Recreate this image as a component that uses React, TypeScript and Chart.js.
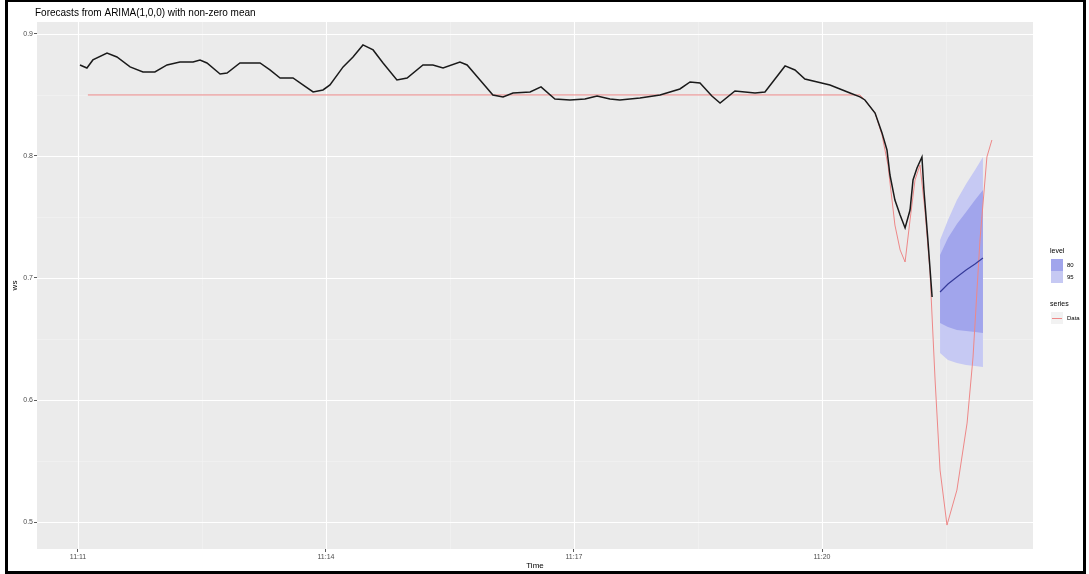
import React, { useEffect, useRef } from "react";
import { Chart, registerables } from "chart.js";
Chart.register(...registerables);

// ---- data ----
const seriesX = [0.008, 0.036, 0.060, 0.117, 0.157, 0.210, 0.262, 0.310, 0.359, 0.411, 0.464, 0.492, 0.520, 0.573, 0.601, 0.653, 0.734, 0.774, 0.815, 0.867, 0.907, 0.948, 0.988, 1.016, 1.069, 1.109, 1.149, 1.190, 1.230, 1.286, 1.327, 1.391, 1.431, 1.472, 1.540, 1.569, 1.621, 1.673, 1.714, 1.754, 1.823, 1.867, 1.923, 1.984, 2.044, 2.093, 2.145, 2.185, 2.266, 2.347, 2.427, 2.468, 2.508, 2.556, 2.589, 2.649, 2.730, 2.770, 2.851, 2.891, 2.931, 3.032, 3.113, 3.153, 3.173, 3.214, 3.242, 3.262, 3.274, 3.294, 3.315, 3.335, 3.355, 3.367, 3.383, 3.403, 3.411, 3.427, 3.444];
const seriesY = [0.8746, 0.8721, 0.8787, 0.8844, 0.8811, 0.8730, 0.8689, 0.8689, 0.8746, 0.8770, 0.8770, 0.8787, 0.8762, 0.8672, 0.8680, 0.8762, 0.8762, 0.8705, 0.8639, 0.8639, 0.8582, 0.8525, 0.8541, 0.8582, 0.8730, 0.8811, 0.8910, 0.8869, 0.8762, 0.8623, 0.8639, 0.8746, 0.8746, 0.8721, 0.8770, 0.8746, 0.8623, 0.8500, 0.8484, 0.8516, 0.8525, 0.8566, 0.8467, 0.8459, 0.8467, 0.8492, 0.8467, 0.8459, 0.8475, 0.8500, 0.8549, 0.8607, 0.8598, 0.8492, 0.8434, 0.8533, 0.8516, 0.8525, 0.8738, 0.8705, 0.8631, 0.8582, 0.8516, 0.8484, 0.8459, 0.8352, 0.8189, 0.8049, 0.7844, 0.7639, 0.7516, 0.7410, 0.7557, 0.7803, 0.7902, 0.7992, 0.7721, 0.7311, 0.6844];

const dataX = [0.040, 3.153, 3.173, 3.214, 3.242, 3.266, 3.294, 3.315, 3.335, 3.355, 3.375, 3.395, 3.415, 3.435, 3.456, 3.476, 3.504, 3.544, 3.585, 3.609, 3.637, 3.665, 3.685];
const dataY = [0.8500, 0.8500, 0.8459, 0.8352, 0.8172, 0.7926, 0.7434, 0.7230, 0.7131, 0.7475, 0.7803, 0.7926, 0.7557, 0.7066, 0.6164, 0.5426, 0.4975, 0.5262, 0.5811, 0.6352, 0.7311, 0.7992, 0.8131];

const fcX = [3.476, 3.508, 3.544, 3.581, 3.617, 3.649];
const fcMean = [0.6885, 0.6951, 0.7008, 0.7066, 0.7115, 0.7164];
const fcHi95 = [0.7311, 0.7475, 0.7639, 0.7770, 0.7885, 0.7992];
const fcLo95 = [0.6385, 0.6328, 0.6303, 0.6287, 0.6279, 0.6270];
const fcHi80 = [0.7189, 0.7328, 0.7443, 0.7541, 0.7639, 0.7721];
const fcLo80 = [0.6631, 0.6598, 0.6574, 0.6566, 0.6557, 0.6549];

const xTickValues = [0, 1, 2, 3];
const xTickLabels = ["11:11", "11:14", "11:17", "11:20"];
const yTickValues = [0.5, 0.6, 0.7, 0.8, 0.9];
const levelLabels = ["80", "95"];
const seriesLabels = ["Data"];

const TITLE = "Forecasts from ARIMA(1,0,0) with non-zero mean";
const X_TITLE = "Time";
const Y_TITLE = "ws";

const LIGHT = "#C6C9F3";
const DARK = "#A1A5EC";
const RED = "#EE8888";
const FONT = '"Liberation Sans", Arial, sans-serif';

const pts = (xs: number[], ys: number[]) => xs.map((x, i) => ({ x, y: ys[i] }));

export default function App() {
  const ref = useRef<HTMLCanvasElement | null>(null);
  useEffect(() => {
    if (!ref.current) return;
    Chart.defaults.font.family = FONT;

    const deco = {
      id: "deco",
      beforeDraw(chart: any) {
        const { ctx, chartArea: a } = chart;
        ctx.save();
        ctx.fillStyle = "#FFFFFF";
        ctx.fillRect(0, 0, chart.width, chart.height);
        ctx.fillStyle = "#EBEBEB";
        ctx.fillRect(a.left, a.top, a.right - a.left, a.bottom - a.top);
        ctx.restore();
      },
      beforeDatasetsDraw(chart: any) {
        const { ctx, chartArea: a, scales } = chart;
        const xs = scales.x, ys = scales.y;
        ctx.save();
        // minor
        ctx.strokeStyle = "#F4F4F4";
        ctx.lineWidth = 0.6;
        for (let i = 0; i < yTickValues.length - 1; i++) {
          const py = Math.round(ys.getPixelForValue((yTickValues[i] + yTickValues[i + 1]) / 2)) + 0.5;
          ctx.beginPath(); ctx.moveTo(a.left, py); ctx.lineTo(a.right, py); ctx.stroke();
        }
        for (let i = 0; i < xTickValues.length; i++) {
          const v = xTickValues[i] + 0.5;
          const px = Math.round(xs.getPixelForValue(v)) + 0.5;
          if (px > a.right) continue;
          ctx.beginPath(); ctx.moveTo(px, a.top); ctx.lineTo(px, a.bottom); ctx.stroke();
        }
        // major
        ctx.strokeStyle = "#FFFFFF";
        ctx.lineWidth = 1.1;
        yTickValues.forEach((v) => {
          const py = Math.round(ys.getPixelForValue(v)) + 0.5;
          ctx.beginPath(); ctx.moveTo(a.left, py); ctx.lineTo(a.right, py); ctx.stroke();
        });
        xTickValues.forEach((v) => {
          const px = Math.round(xs.getPixelForValue(v)) + 0.5;
          ctx.beginPath(); ctx.moveTo(px, a.top); ctx.lineTo(px, a.bottom); ctx.stroke();
        });
        ctx.restore();
      },
      afterDraw(chart: any) {
        const { ctx, chartArea: a } = chart;
        ctx.save();
        // title
        ctx.fillStyle = "#000";
        ctx.font = `10px ${FONT}`;
        ctx.textAlign = "left";
        ctx.textBaseline = "middle";
        ctx.fillText(TITLE, 35, 13);
        // axis titles
        ctx.font = `8px ${FONT}`;
        ctx.textAlign = "center";
        ctx.fillText(X_TITLE, (a.left + a.right) / 2, 566);
        ctx.save();
        ctx.translate(15, (a.top + a.bottom) / 2);
        ctx.rotate(-Math.PI / 2);
        ctx.fillText(Y_TITLE, 0, 0);
        ctx.restore();
        // legend
        ctx.textAlign = "left";
        ctx.font = `7px ${FONT}`;
        ctx.fillText("level", 1050, 251);
        ctx.fillStyle = DARK;
        ctx.fillRect(1051, 259, 12, 12);
        ctx.fillStyle = LIGHT;
        ctx.fillRect(1051, 271, 12, 12);
        ctx.fillStyle = "#000";
        ctx.font = `6px ${FONT}`;
        ctx.fillText(levelLabels[0], 1067, 265);
        ctx.fillText(levelLabels[1], 1067, 277);
        ctx.font = `7px ${FONT}`;
        ctx.fillText("series", 1050, 304);
        ctx.fillStyle = "#F2F2F2";
        ctx.fillRect(1051, 312, 12, 12);
        ctx.strokeStyle = RED;
        ctx.lineWidth = 1;
        ctx.beginPath(); ctx.moveTo(1052, 318.5); ctx.lineTo(1062, 318.5); ctx.stroke();
        ctx.fillStyle = "#000";
        ctx.font = `6px ${FONT}`;
        ctx.fillText(seriesLabels[0], 1067, 318);
        // frame
        ctx.fillStyle = "#000";
        ctx.fillRect(5, 0, 3, 574);
        ctx.fillRect(5, 0, 1081, 2);
        ctx.fillRect(1083, 0, 3, 574);
        ctx.fillRect(5, 571, 1081, 3);
        ctx.restore();
      },
    };

    const noPt = { pointRadius: 0, pointHoverRadius: 0, tension: 0 };
    const chart = new Chart(ref.current, {
      type: "line",
      data: {
        datasets: [
          { label: "lo95", data: pts(fcX, fcLo95), borderWidth: 0, borderColor: "rgba(0,0,0,0)", fill: false, order: 7, ...noPt },
          { label: "95", data: pts(fcX, fcHi95), borderWidth: 0, borderColor: "rgba(0,0,0,0)", backgroundColor: LIGHT, fill: 0, order: 6, ...noPt },
          { label: "lo80", data: pts(fcX, fcLo80), borderWidth: 0, borderColor: "rgba(0,0,0,0)", fill: false, order: 5, ...noPt },
          { label: "80", data: pts(fcX, fcHi80), borderWidth: 0, borderColor: "rgba(0,0,0,0)", backgroundColor: DARK, fill: 2, order: 4, ...noPt },
          { label: "Data", data: pts(dataX, dataY), borderWidth: 1, borderColor: RED, fill: false, order: 3, ...noPt },
          { label: "series", data: pts(seriesX, seriesY), borderWidth: 1.5, borderColor: "#1A1A1A", fill: false, order: 2, ...noPt },
          { label: "mean", data: pts(fcX, fcMean), borderWidth: 1.2, borderColor: "#363B9A", fill: false, order: 1, ...noPt },
        ] as any,
      },
      options: {
        responsive: false,
        animation: false,
        events: [],
        layout: { padding: { left: 0, right: 56, top: 22, bottom: 0 } },
        plugins: { legend: { display: false }, tooltip: { enabled: false }, title: { display: false } },
        scales: {
          x: {
            type: "linear",
            min: -0.1653,
            max: 3.8508,
            afterBuildTicks: (s: any) => { s.ticks = xTickValues.map((v) => ({ value: v })); },
            afterFit: (s: any) => { s.height = 25; },
            ticks: {
              autoSkip: false,
              maxRotation: 0,
              padding: 1,
              color: "#4D4D4D",
              font: { size: 7 },
              callback: (v: any) => xTickLabels[xTickValues.indexOf(Number(v))] ?? "",
            },
            grid: { drawOnChartArea: false, tickLength: 3, tickColor: "#333333", tickWidth: 0.8 },
            border: { display: false },
          },
          y: {
            type: "linear",
            min: 0.4779,
            max: 0.9098,
            afterBuildTicks: (s: any) => { s.ticks = yTickValues.map((v) => ({ value: v })); },
            afterFit: (s: any) => { s.width = 37; },
            ticks: {
              autoSkip: false,
              padding: 1,
              color: "#4D4D4D",
              font: { size: 7 },
              callback: (v: any) => Number(v).toFixed(1),
            },
            grid: { drawOnChartArea: false, tickLength: 3, tickColor: "#333333", tickWidth: 0.8 },
            border: { display: false },
          },
        },
      },
      plugins: [deco as any],
    });
    return () => chart.destroy();
  }, []);

  return (
    <div style={{ position: "fixed", left: 0, top: 0, width: 1089, height: 574, background: "#fff" }}>
      <canvas ref={ref} width={1089} height={574} style={{ width: 1089, height: 574, display: "block" }} />
    </div>
  );
}
